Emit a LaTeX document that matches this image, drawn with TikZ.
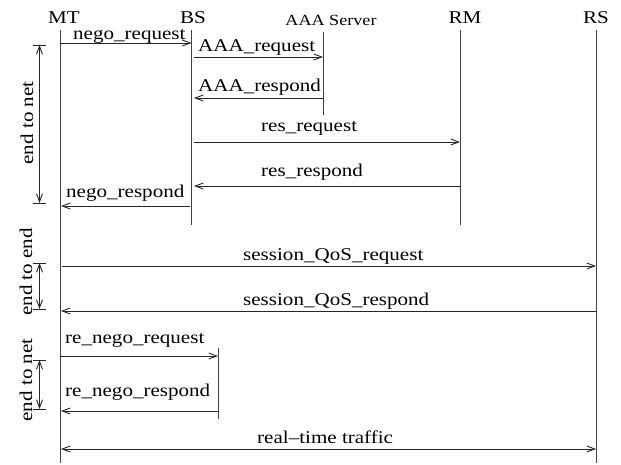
\documentclass[tikz,border=0pt]{standalone}
\usepackage{fontspec}
\setmainfont{Liberation Serif}[FakeStretch=1.17]
\usetikzlibrary{arrows.meta}
\tikzset{
  life/.style={draw=black!75, line width=0.9pt},
  msg/.style={draw=black!85, line width=0.9pt, -{Straight Barb[length=8pt,width=6pt]}},
  dmsg/.style={draw=black!85, line width=0.9pt, {Straight Barb[length=8pt,width=6pt]}-{Straight Barb[length=8pt,width=6pt]}},
  lbl/.style={inner sep=0pt, anchor=base west, font=\fontsize{18}{20}\selectfont},
  head/.style={inner sep=0pt, anchor=base, font=\fontsize{18}{20}\selectfont},
  small/.style={inner sep=0pt, anchor=base, font=\fontsize{15.5}{17}\selectfont},
  side/.style={inner sep=0pt, rotate=90, font=\fontsize{18}{20}\selectfont},
  span/.style={draw=black!85, line width=0.9pt, {Straight Barb[length=8pt,width=6pt]}-{Straight Barb[length=8pt,width=6pt]}},
  tick/.style={draw=black!85, line width=0.9pt}
}
\begin{document}
\begin{tikzpicture}[x=1pt,y=-1pt]
\useasboundingbox (0,0) rectangle (621,465);
% headers
\node[head] (hMT) at (64,24) {MT};
\node[head] (hBS) at (193,24) {BS};
\node[small] (hAAA) at (331,26) {AAA Server};
\node[head] (hRM) at (465,24) {RM};
\node[head] (hRS) at (596,24) {RS};
% lifelines
\coordinate (MTa) at (60,30);   \coordinate (MTb) at (60,463);
\coordinate (BSa) at (191.5,30); \coordinate (BSb) at (191.5,225);
\coordinate (AAa) at (323,32);  \coordinate (AAb) at (323,115);
\coordinate (RMa) at (460,30);  \coordinate (RMb) at (460,225);
\coordinate (RSa) at (596,30);  \coordinate (RSb) at (596,463);
\coordinate (BS2a) at (218,348); \coordinate (BS2b) at (218,419);
\draw[life] (MTa) -- (MTb);
\draw[life] (BSa) -- (BSb);
\draw[life] (AAa) -- (AAb);
\draw[life] (RMa) -- (RMb);
\draw[life] (RSa) -- (RSb);
\draw[life] (BS2a) -- (BS2b);
% message endpoints
\coordinate (m1s) at (60,43);   \coordinate (m1e) at (191.5,43);
\coordinate (m2s) at (194,57);  \coordinate (m2e) at (323,57);
\coordinate (m3s) at (323,98);  \coordinate (m3e) at (194,98);
\coordinate (m4s) at (194,142); \coordinate (m4e) at (460,142);
\coordinate (m5s) at (460,186); \coordinate (m5e) at (194,186);
\coordinate (m6s) at (190,206); \coordinate (m6e) at (61,206);
\coordinate (m7s) at (62,266);  \coordinate (m7e) at (596,266);
\coordinate (m8s) at (596,311); \coordinate (m8e) at (61,311);
\coordinate (m9s) at (60,356);  \coordinate (m9e) at (218,356);
\coordinate (m10s) at (218,411); \coordinate (m10e) at (61,411);
\coordinate (m11s) at (61,449); \coordinate (m11e) at (596,449);
\draw[msg] (m1s) -- (m1e);
\draw[msg] (m2s) -- (m2e);
\draw[msg] (m3s) -- (m3e);
\draw[msg] (m4s) -- (m4e);
\draw[msg] (m5s) -- (m5e);
\draw[msg] (m6s) -- (m6e);
\draw[msg] (m7s) -- (m7e);
\draw[msg] (m8s) -- (m8e);
\draw[msg] (m9s) -- (m9e);
\draw[msg] (m10s) -- (m10e);
\draw[dmsg] (m11s) -- (m11e);
% labels
\node[lbl] (l1) at (73,40) {nego\_request};
\node[lbl] (l2) at (198,52) {AAA\_request};
\node[lbl] (l3) at (198,92) {AAA\_respond};
\node[lbl] (l4) at (261,132) {res\_request};
\node[lbl] (l5) at (261,177) {res\_respond};
\node[lbl] (l6) at (66,198) {nego\_respond};
\node[lbl] (l7) at (243,260) {session\_QoS\_request};
\node[lbl] (l8) at (243,305) {session\_QoS\_respond};
\node[lbl] (l9) at (65,343) {re\_nego\_request};
\node[lbl] (l10) at (65,396) {re\_nego\_respond};
\node[lbl] (l11) at (257,443) {real\textendash time traffic};
% side spans
\coordinate (s1a) at (39.5,45);  \coordinate (s1b) at (39.5,203);
\coordinate (s2a) at (39.5,263); \coordinate (s2b) at (39.5,309);
\coordinate (s3a) at (39.5,360); \coordinate (s3b) at (39.5,409);
\draw[span] (s1a) -- (s1b);
\draw[span] (s2a) -- (s2b);
\draw[span] (s3a) -- (s3b);
\draw[tick] ([xshift=-6.5pt]s1a) -- ([xshift=6.5pt]s1a);
\draw[tick] ([xshift=-6.5pt]s1b) -- ([xshift=6.5pt]s1b);
\draw[tick] ([xshift=-6.5pt]s2a) -- ([xshift=6.5pt]s2a);
\draw[tick] ([xshift=-6.5pt]s2b) -- ([xshift=6.5pt]s2b);
\draw[tick] ([xshift=-6.5pt]s3a) -- ([xshift=6.5pt]s3a);
\draw[tick] ([xshift=-6.5pt]s3b) -- ([xshift=6.5pt]s3b);
\node[side] (t1) at (27,123) {end to net};
\node[side] (t2) at (26,272) {end to end};
\node[side] (t3) at (26,380) {end to net};
\end{tikzpicture}
\end{document}
